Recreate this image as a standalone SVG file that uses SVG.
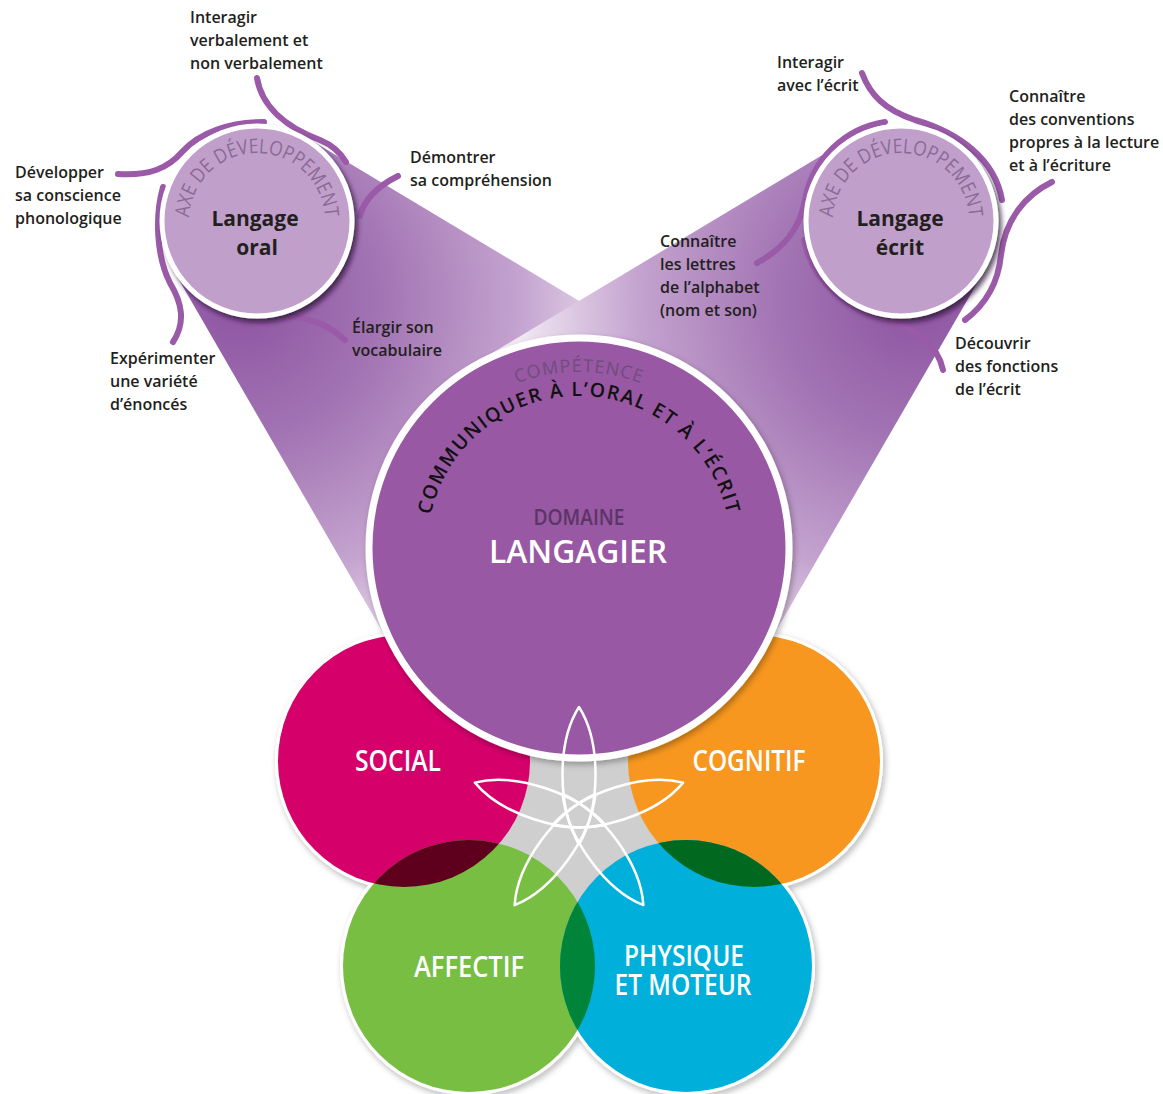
<svg xmlns="http://www.w3.org/2000/svg" width="1163" height="1094" viewBox="0 0 1163 1094">
<defs>
<style>
.lbl{font-family:"Open Sans","Noto Sans",sans-serif;font-weight:600;font-size:16px;fill:#231f20}
.axe{font-family:"Open Sans","Noto Sans",sans-serif;font-weight:500;font-size:20px;fill:#8b6a95}
.lnk{fill:none;stroke:#9a5aa8;stroke-width:6;stroke-linecap:round}
.cat{font-family:"Open Sans","Noto Sans",sans-serif;font-weight:600;font-size:28px;fill:#ffffff}
.ttl{font-family:"Open Sans","Noto Sans",sans-serif;font-weight:700;font-size:21px;fill:#231f20}
.small{fill:#c19fcb;stroke:#ffffff;stroke-width:5}
.ring{fill:none;stroke:#ffffff;stroke-width:6}
.petal{fill:none;stroke:#ffffff;stroke-width:2.5;stroke-linejoin:round}
</style>
<radialGradient id="beamL" gradientUnits="userSpaceOnUse" cx="240" cy="300" r="400">
<stop offset="0" stop-color="#8e53a2"/>
<stop offset="0.35" stop-color="#a274b3"/>
<stop offset="0.7" stop-color="#c4a3cf"/>
<stop offset="1" stop-color="#f1e8f3"/>
</radialGradient>
<radialGradient id="beamR" gradientUnits="userSpaceOnUse" cx="918" cy="300" r="400">
<stop offset="0" stop-color="#8e53a2"/>
<stop offset="0.35" stop-color="#a274b3"/>
<stop offset="0.7" stop-color="#c4a3cf"/>
<stop offset="1" stop-color="#f1e8f3"/>
</radialGradient>
<filter id="sh" x="-20%" y="-20%" width="150%" height="150%">
<feDropShadow dx="3" dy="4" stdDeviation="2.5" flood-color="#2a0f33" flood-opacity="0.75"/>
</filter>
<filter id="sh2" x="-10%" y="-10%" width="130%" height="130%">
<feDropShadow dx="2" dy="3" stdDeviation="3" flood-color="#000000" flood-opacity="0.3"/>
</filter>
<clipPath id="cSocial"><circle cx="404" cy="761" r="126"/></clipPath>
<clipPath id="cCog"><circle cx="754" cy="761" r="126"/></clipPath>
<clipPath id="cAff"><circle cx="469" cy="966" r="126"/></clipPath>
<path id="petal" d="M0,-109.5 C22,-75 22,-10 0,28 C-22,-10 -22,-75 0,-109.5Z"/>
<path id="arcOral" d="M193.1,244.3 A68,68 0 1 1 320.9,244.3"/>
<path id="arcEcrit" d="M837.1,244.3 A68,68 0 1 1 964.9,244.3"/>
<path id="arcComm" d="M432.2,587.3 A152,152 0 1 1 725.8,587.3"/>
<path id="arcComp" d="M426.6,636 A176,176 0 1 1 731.4,636"/>
</defs>

<g id="beams">
<polygon points="306.9,137.8 688,366.2 395.5,654.2 173,269.6" fill="url(#beamL)"/>
<polygon points="851.1,137.8 470,366.2 762.5,654.2 985,269.6" fill="url(#beamR)"/>
</g>

<g id="connectors">
<path class="lnk" d="M257,78 C262,108 288,128 320,140 C332,145 340,152 346,162"/>
<path class="lnk" d="M118,174 C150,176 168,168 182,152 C200,132 230,122 264,122"/>
<path class="lnk" d="M163,187 C155,215 156,255 170,283 C182,303 186,322 173,342"/>
<path class="lnk" d="M398,176 C378,186 364,200 360,216"/>
<path class="lnk" d="M345,340 C332,328 318,320 290,316"/>
<path class="lnk" d="M862,73 C870,95 885,110 915,120 C960,133 995,160 1002,200"/>
<path class="lnk" d="M757,263 C785,248 800,228 805,200 C812,160 845,128 885,122"/>
<path class="lnk" d="M1052,182 C1025,195 1005,220 1001,255 C998,285 985,305 965,320"/>
<path class="lnk" d="M943,370 C938,345 915,328 885,320 C840,305 812,280 804,240"/>
</g>

<g id="oral">
<circle class="small" cx="257" cy="221" r="95" filter="url(#sh)"/>
<text class="axe"><textPath href="#arcOral" startOffset="50%" text-anchor="middle" textLength="206" lengthAdjust="spacingAndGlyphs">AXE DE DÉVELOPPEMENT</textPath></text>
<text class="ttl" x="255" y="226" text-anchor="middle">Langage</text>
<text class="ttl" x="257" y="255" text-anchor="middle">oral</text>
</g>

<g id="ecrit">
<circle class="small" cx="901" cy="221" r="95" filter="url(#sh)"/>
<text class="axe"><textPath href="#arcEcrit" startOffset="50%" text-anchor="middle" textLength="206" lengthAdjust="spacingAndGlyphs">AXE DE DÉVELOPPEMENT</textPath></text>
<text class="ttl" x="900" y="226" text-anchor="middle">Langage</text>
<text class="ttl" x="900" y="255" text-anchor="middle">écrit</text>
</g>

<g id="labels">
<text class="lbl" x="190" y="23">Interagir</text>
<text class="lbl" x="190" y="46">verbalement et</text>
<text class="lbl" x="190" y="69">non verbalement</text>
<text class="lbl" x="15" y="178">Développer</text>
<text class="lbl" x="15" y="201">sa conscience</text>
<text class="lbl" x="15" y="224">phonologique</text>
<text class="lbl" x="410" y="163">Démontrer</text>
<text class="lbl" x="410" y="186">sa compréhension</text>
<text class="lbl" x="352" y="333">Élargir son</text>
<text class="lbl" x="352" y="356">vocabulaire</text>
<text class="lbl" x="110" y="364">Expérimenter</text>
<text class="lbl" x="110" y="387">une variété</text>
<text class="lbl" x="110" y="410">d’énoncés</text>
<text class="lbl" x="777" y="68">Interagir</text>
<text class="lbl" x="777" y="91">avec l’écrit</text>
<text class="lbl" x="1009" y="102">Connaître</text>
<text class="lbl" x="1009" y="125">des conventions</text>
<text class="lbl" x="1009" y="148">propres à la lecture</text>
<text class="lbl" x="1009" y="171">et à l’écriture</text>
<text class="lbl" x="660" y="247">Connaître</text>
<text class="lbl" x="660" y="270">les lettres</text>
<text class="lbl" x="660" y="293">de l’alphabet</text>
<text class="lbl" x="660" y="316">(nom et son)</text>
<text class="lbl" x="955" y="349">Découvrir</text>
<text class="lbl" x="955" y="372">des fonctions</text>
<text class="lbl" x="955" y="395">de l’écrit</text>
</g>

<g id="domains">
<g filter="url(#sh2)">
<circle class="ring" cx="404" cy="761" r="126"/>
<circle class="ring" cx="754" cy="761" r="126"/>
<circle class="ring" cx="469" cy="966" r="126"/>
<circle class="ring" cx="686" cy="966" r="126"/>
</g>
<circle cx="579" cy="810" r="100" fill="#cfcfcf"/>
<g id="social"><circle cx="404" cy="761" r="126" fill="#d6006b"/></g>
<g id="cognitif"><circle cx="754" cy="761" r="126" fill="#f7971f"/></g>
<g id="affectif"><circle cx="469" cy="966" r="126" fill="#77be43"/></g>
<g id="physique"><circle cx="686" cy="966" r="126" fill="#00b0db"/></g>
<circle cx="469" cy="966" r="126" fill="#5e001d" clip-path="url(#cSocial)"/>
<circle cx="686" cy="966" r="126" fill="#00691f" clip-path="url(#cCog)"/>
<circle cx="686" cy="966" r="126" fill="#00843a" clip-path="url(#cAff)"/>
<text class="cat" x="398" y="771" text-anchor="middle" textLength="86" lengthAdjust="spacingAndGlyphs">SOCIAL</text>
<text class="cat" x="749" y="771" text-anchor="middle" textLength="113" lengthAdjust="spacingAndGlyphs">COGNITIF</text>
<text class="cat" x="469" y="977" text-anchor="middle" textLength="110" lengthAdjust="spacingAndGlyphs">AFFECTIF</text>
<text class="cat" x="684" y="966" text-anchor="middle" textLength="120" lengthAdjust="spacingAndGlyphs">PHYSIQUE</text>
<text class="cat" x="683" y="995" text-anchor="middle" textLength="137" lengthAdjust="spacingAndGlyphs">ET MOTEUR</text>
</g>

<g id="langagier">
<circle cx="579" cy="548" r="210" fill="#9859a3" stroke="#ffffff" stroke-width="7" filter="url(#sh2)"/>
<text font-family="Open Sans, Noto Sans, sans-serif" font-weight="500" font-size="18" fill="#6f4d7d" letter-spacing="1"><textPath href="#arcComp" startOffset="50%" text-anchor="middle">COMPÉTENCE</textPath></text>
<text font-family="Open Sans, Noto Sans, sans-serif" font-weight="600" font-size="19.5" fill="#111111" letter-spacing="1.6"><textPath href="#arcComm" startOffset="50%" text-anchor="middle">COMMUNIQUER À L’ORAL ET À L’ÉCRIT</textPath></text>
<text x="579" y="525" text-anchor="middle" font-family="Open Sans, Noto Sans, sans-serif" font-weight="600" font-size="21" fill="#5b3566" textLength="91" lengthAdjust="spacingAndGlyphs">DOMAINE</text>
<text x="578" y="563" text-anchor="middle" font-family="Open Sans, Noto Sans, sans-serif" font-weight="600" font-size="32" fill="#ffffff" textLength="178" lengthAdjust="spacingAndGlyphs">LANGAGIER</text>
</g>

<g id="star" transform="translate(579,816.5)">
<use href="#petal" class="petal"/>
<use href="#petal" class="petal" transform="rotate(72)"/>
<use href="#petal" class="petal" transform="rotate(144)"/>
<use href="#petal" class="petal" transform="rotate(216)"/>
<use href="#petal" class="petal" transform="rotate(288)"/>
</g>
</svg>
